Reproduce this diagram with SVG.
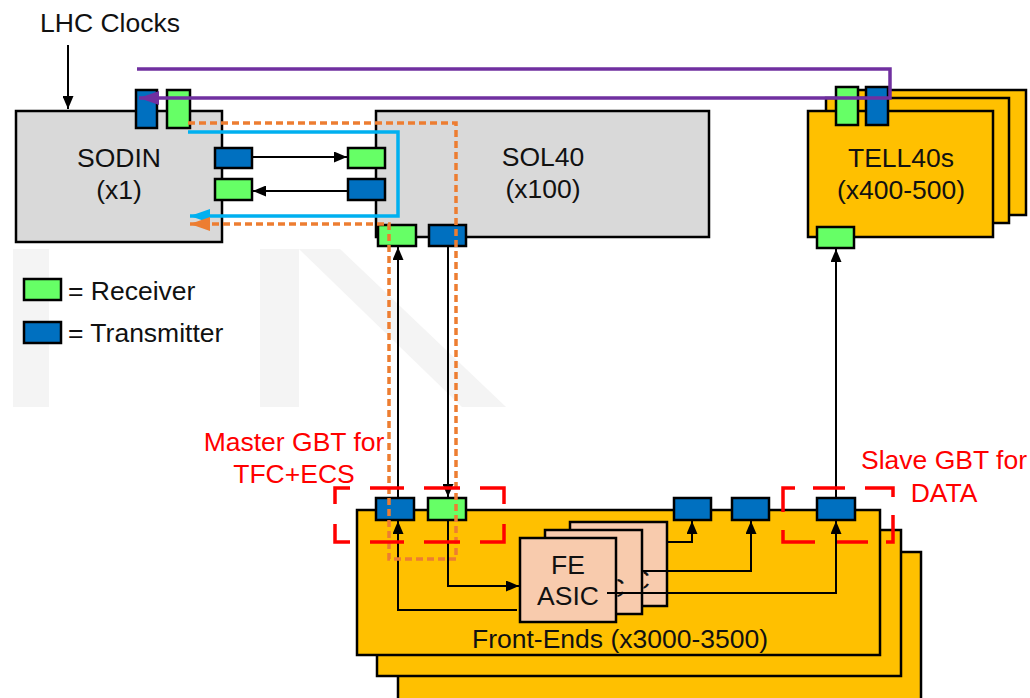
<svg xmlns="http://www.w3.org/2000/svg" width="1030" height="698" viewBox="0 0 1030 698">
<defs>
<style>
text{font-family:"Liberation Sans",Arial,sans-serif;font-size:26.5px;fill:#111}
.wm{fill:#f4f4f4}
.box{stroke:#000;stroke-width:2.5}
.grey{fill:#d9d9d9}
.yel{fill:#ffc000}
.rx{fill:#66ff66;stroke:#000;stroke-width:2.5}
.tx{fill:#0070c0;stroke:#000;stroke-width:2.5}
.card{fill:#f8cbad;stroke:#000;stroke-width:2.5}
.ln{fill:none;stroke:#000;stroke-width:2}
.red{fill:none;stroke:#ff0000;stroke-width:3.5}
.redt{fill:#ff0000}
</style>
<clipPath id="c1"><rect x="617.5" y="520" width="30" height="100"/></clipPath>
<clipPath id="c2"><rect x="643.5" y="510" width="30" height="100"/></clipPath>
<marker id="ab" markerUnits="userSpaceOnUse" markerWidth="13" markerHeight="11" refX="13" refY="5.5" orient="auto"><path d="M0,0L13,5.5L0,11z" fill="#000"/></marker>
<marker id="ap" markerUnits="userSpaceOnUse" markerWidth="20" markerHeight="14" refX="20" refY="7" orient="auto"><path d="M0,0L20,7L0,14z" fill="#7030a0"/></marker>
<marker id="ac" markerUnits="userSpaceOnUse" markerWidth="20" markerHeight="14" refX="20" refY="7" orient="auto"><path d="M0,0L20,7L0,14z" fill="#00b0f0"/></marker>
<marker id="ao" markerUnits="userSpaceOnUse" markerWidth="20" markerHeight="14" refX="20" refY="7" orient="auto"><path d="M0,0L20,7L0,14z" fill="#ed7d31"/></marker>
</defs>
<rect width="1030" height="698" fill="#fff"/>

<g id="watermark">
<rect class="wm" x="13" y="249" width="36" height="158"/>
<rect class="wm" x="260" y="249" width="39" height="158"/>
<polygon class="wm" points="299,249 340,249 506,407 462,407"/>
</g>

<text x="40" y="32">LHC Clocks</text>

<g id="sodin">
<rect class="box grey" x="16" y="111" width="206" height="131"/>
<text x="119" y="167" text-anchor="middle">SODIN</text>
<text x="119" y="199" text-anchor="middle">(x1)</text>
</g>

<g id="sol40">
<rect class="box grey" x="376" y="111" width="333" height="126"/>
<text x="543" y="166" text-anchor="middle">SOL40</text>
<text x="543" y="198" text-anchor="middle">(x100)</text>
</g>

<g id="tell40">
<rect class="box yel" x="843" y="90" width="183" height="125"/>
<rect class="box yel" x="826" y="98" width="183" height="125"/>
<rect class="box yel" x="808" y="111" width="185" height="126"/>
<text x="901" y="167" text-anchor="middle">TELL40s</text>
<text x="901" y="199" text-anchor="middle">(x400-500)</text>
</g>

<g id="frontends">
<rect class="box yel" x="398" y="552" width="523" height="170"/>
<rect class="box yel" x="377" y="530" width="524" height="146"/>
<rect class="box yel" x="357" y="510" width="523" height="145"/>
<text x="620" y="648" text-anchor="middle">Front-Ends (x3000-3500)</text>
</g>

<g id="fe-asic">
<rect class="card" x="570" y="522" width="97" height="84"/>
<text x="650" y="589" text-anchor="end" clip-path="url(#c2)">C</text>
<rect class="card" x="545" y="530" width="97" height="84"/>
<text x="625" y="597" text-anchor="end" clip-path="url(#c1)">C</text>
<rect class="card" x="520" y="538" width="96" height="84"/>
<text x="568" y="574" text-anchor="middle">FE</text>
<text x="568" y="605" text-anchor="middle">ASIC</text>
</g>

<g id="ports">
<rect class="tx" x="136" y="90" width="21" height="38"/>
<rect class="rx" x="167" y="90" width="23" height="38"/>
<rect class="tx" x="215" y="148" width="37" height="20"/>
<rect class="rx" x="215" y="179" width="37" height="21"/>
<rect class="rx" x="348" y="148" width="37" height="20"/>
<rect class="tx" x="348" y="179" width="37" height="21"/>
<rect class="rx" x="378" y="225" width="38" height="21"/>
<rect class="tx" x="429" y="225" width="37" height="21"/>
<rect class="rx" x="836" y="87" width="22" height="38"/>
<rect class="tx" x="866" y="87" width="22" height="38"/>
<rect class="rx" x="817" y="227" width="37" height="21"/>
<rect class="tx" x="376" y="498" width="38" height="22"/>
<rect class="rx" x="428" y="498" width="38" height="22"/>
<rect class="tx" x="674" y="498" width="37" height="22"/>
<rect class="tx" x="732" y="498" width="37" height="22"/>
<rect class="tx" x="817" y="498" width="38" height="22"/>
</g>

<g id="legend">
<rect class="rx" x="24" y="279" width="37" height="21"/>
<text x="68" y="300">= Receiver</text>
<rect class="tx" x="24" y="322" width="37" height="21"/>
<text x="68" y="342">= Transmitter</text>
</g>

<g id="connectors">
<path class="ln" d="M68,45V109" marker-end="url(#ab)"/>
<path class="ln" d="M252,157H347" marker-end="url(#ab)"/>
<path class="ln" d="M348,191H253" marker-end="url(#ab)"/>
<path class="ln" d="M398,498V247" marker-end="url(#ab)"/>
<path class="ln" d="M448,246V497" marker-end="url(#ab)"/>
<path class="ln" d="M836,498V249" marker-end="url(#ab)"/>
<path class="ln" d="M517,610H398V521" marker-end="url(#ab)"/>
<path class="ln" d="M448,521V586H519" marker-end="url(#ab)"/>
<path class="ln" d="M667,542H692V521" marker-end="url(#ab)"/>
<path class="ln" d="M643,571H751V521" marker-end="url(#ab)"/>
<path class="ln" d="M607,593H836V521" marker-end="url(#ab)"/>
<path d="M137,69H890V98H139" fill="none" stroke="#7030a0" stroke-width="3.5" marker-end="url(#ap)"/>
<path d="M188,132H398V216H190" fill="none" stroke="#00b0f0" stroke-width="3.5" marker-end="url(#ac)"/>
<path d="M188,123H456V559H389V224H190" fill="none" stroke="#ed7d31" stroke-width="3.5" stroke-dasharray="7 4" marker-end="url(#ao)"/>
</g>

<g id="gbt-labels">
<path class="red" d="M335,504V488H350M370,488H404M424,488H460M480,488H504V504M504,524V542H480M460,542H424M404,542H370M350,542H335V524"/>
<path class="red" d="M783,512V488H795M813,488H845M865,488H893V497M893,515V542H886M868,542H837M815,542H783V530"/>
<text class="redt" x="294" y="451" text-anchor="middle">Master GBT for</text>
<text class="redt" x="294" y="483" text-anchor="middle">TFC+ECS</text>
<text class="redt" x="944" y="469" text-anchor="middle">Slave GBT for</text>
<text class="redt" x="944" y="502" text-anchor="middle">DATA</text>
</g>
</svg>
